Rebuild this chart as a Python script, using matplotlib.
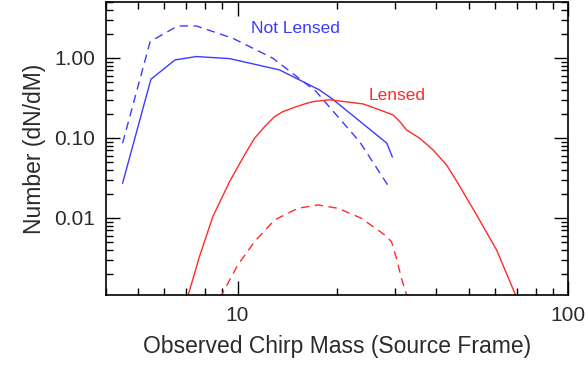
import numpy as np
import matplotlib.pyplot as plt
from matplotlib.ticker import FixedLocator, LogLocator, NullFormatter

plt.rcParams['font.family'] = ['Liberation Sans', 'DejaVu Sans']

# not lensed, solid
nl_mass = [4.49, 5.47, 6.47, 7.50, 9.46, 13.4, 17.7, 19.4, 28.3, 29.4]
nl_num = [0.0272, 0.542, 0.944, 1.04, 0.98, 0.708, 0.398, 0.305, 0.086, 0.058]

# not lensed, dashed
nl2_mass = [4.49, 5.44, 6.59, 7.50, 9.68, 12.8, 17.3, 18.1, 23.4, 28.9]
nl2_num = [0.086, 1.60, 2.51, 2.51, 1.76, 0.99, 0.38, 0.305, 0.090, 0.0235]

# lensed, solid
l_mass = [7.05, 7.67, 8.42, 9.46, 10.50, 11.26, 12.07, 12.95, 13.72, 15.06,
          16.15, 16.91, 19.0, 23.98, 26.93, 29.55, 30.97, 32.45, 35.61,
          39.06, 42.9, 46.0, 52.9, 60.81, 70.0]
l_num = [0.001, 0.00328, 0.0104, 0.0284, 0.0613, 0.099, 0.138, 0.185, 0.213,
         0.246, 0.270, 0.284, 0.300, 0.266, 0.224, 0.194, 0.160, 0.126, 0.099,
         0.0708, 0.046, 0.029, 0.0109, 0.00398, 0.001]

# lensed, dashed
l2_mass = [8.85, 10.02, 11.26, 12.95, 15.23, 17.51, 20.14, 23.71, 27.89,
           29.23, 30.27, 31.34, 32.7]
l2_num = [0.001, 0.00259, 0.00506, 0.00944, 0.0132, 0.01454, 0.0132, 0.0099,
          0.00613, 0.00506, 0.00313, 0.00176, 0.001]

blue = '#3b3bff'
red = '#ff2a2a'
txt = '#2b2b2b'

fig = plt.figure(figsize=(5.87, 3.68), dpi=100)
ax = fig.add_axes([0.1806, 0.1976, 0.787, 0.797])

ax.plot(nl_mass, nl_num, color=blue, lw=1)
ax.plot(nl2_mass, nl2_num, color=blue, lw=1, dashes=(6, 4))
ax.plot(l_mass, l_num, color=red, lw=1)
ax.plot(l2_mass, l2_num, color=red, lw=1, dashes=(6, 4))

ax.set_xscale('log')
ax.set_yscale('log')
ax.set_xlim(4.0, 100)
ax.set_ylim(0.00108, 5.0)

ax.text(15.0, 2.3, 'Not Lensed', color=blue, fontsize=12.5, ha='center', va='center')
ax.text(30.5, 0.335, 'Lensed', color=red, fontsize=12.5, ha='center', va='center')

ax.xaxis.set_major_locator(FixedLocator([10, 100]))
ax.set_xticklabels(['10', '100'])
ax.xaxis.set_minor_locator(LogLocator(base=10, subs=np.arange(2, 10)))
ax.xaxis.set_minor_formatter(NullFormatter())
ax.yaxis.set_major_locator(FixedLocator([0.01, 0.1, 1.0]))
ax.set_yticklabels(['0.01', '0.10', '1.00'])
ax.yaxis.set_minor_locator(LogLocator(base=10, subs=np.arange(2, 10)))
ax.yaxis.set_minor_formatter(NullFormatter())

ax.tick_params(which='both', direction='in', top=True, right=True,
               colors='black', labelcolor=txt, labelsize=15, width=1)
ax.tick_params(which='major', length=10, pad=8)
ax.tick_params(which='minor', length=5)
for s in ax.spines.values():
    s.set_linewidth(1.2)

ax.set_xlabel('Observed Chirp Mass (Source Frame)', fontsize=16.5, color=txt, labelpad=7)
ax.set_ylabel('Number (dN/dM)', fontsize=16.5, color=txt, labelpad=6)

fig.savefig('out.png', dpi=100)
